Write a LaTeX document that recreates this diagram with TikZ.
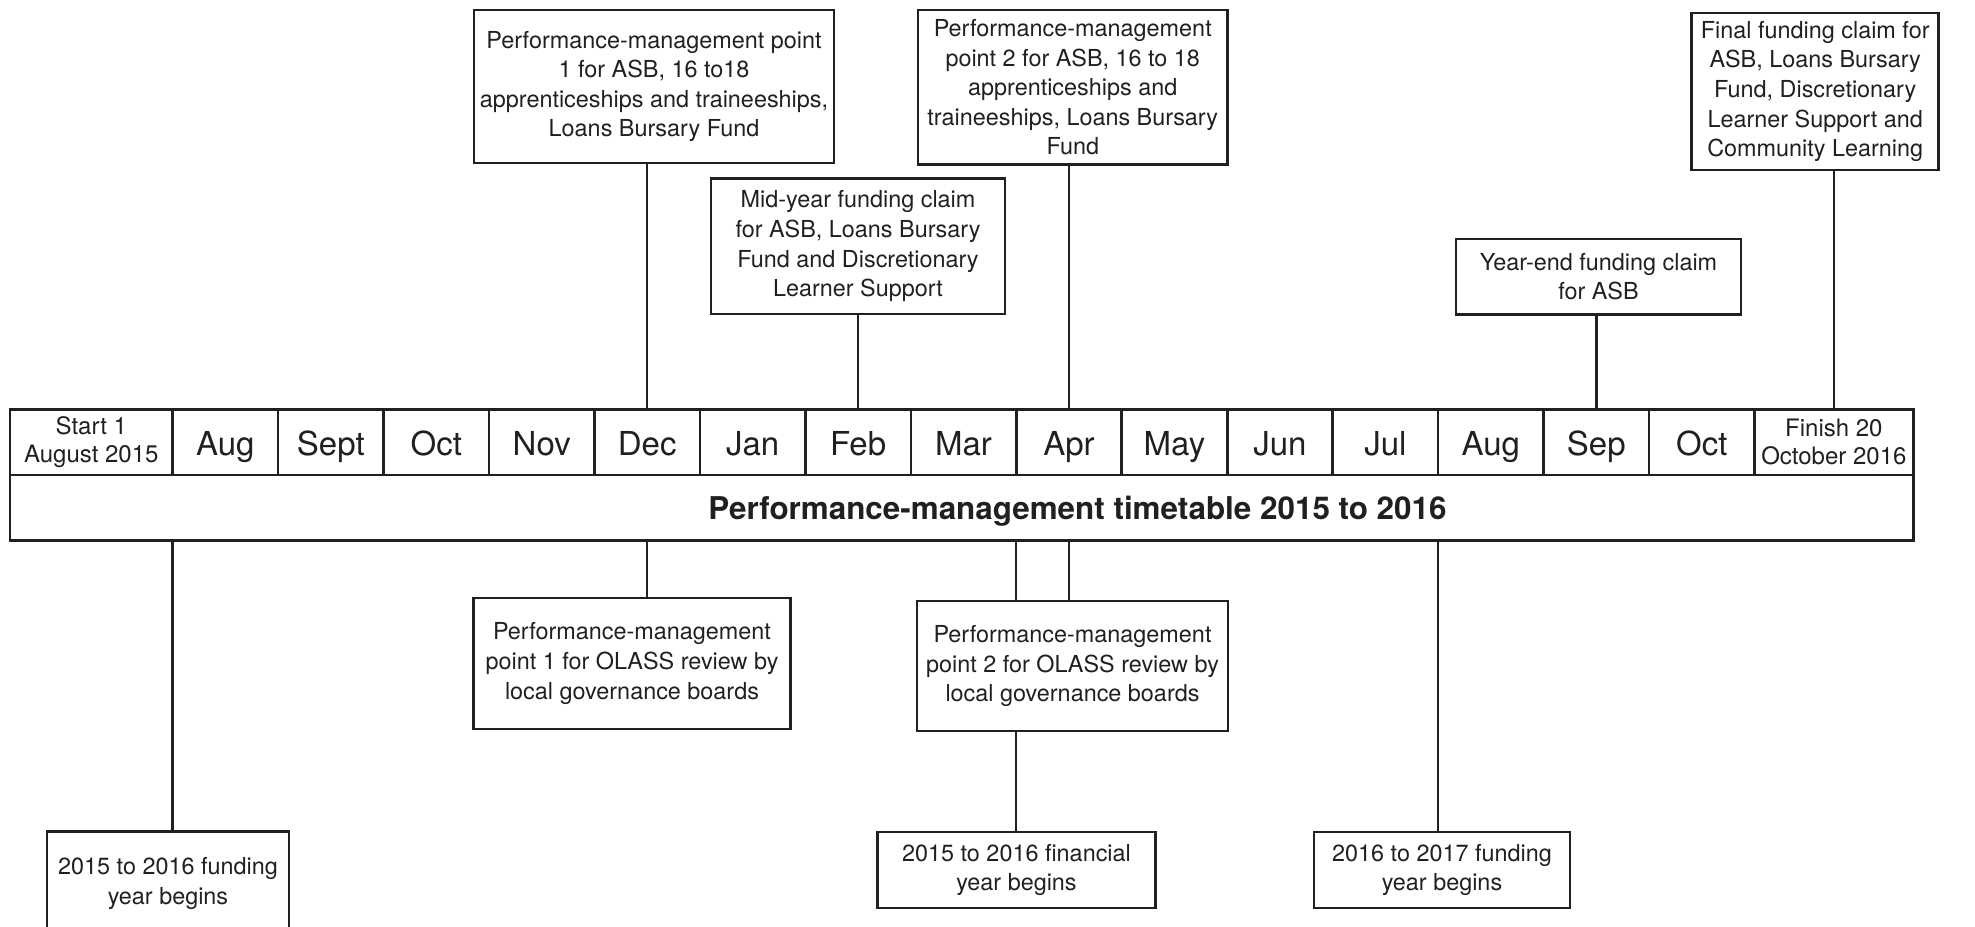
\documentclass[tikz,border=0pt]{standalone}
\usepackage{fontspec}
\setmainfont{TeX Gyre Heros}
\usetikzlibrary{positioning}
\definecolor{inkline}{HTML}{231F20}

\tikzset{
    cell/.style={draw=inkline, line width=1.3pt, minimum height=32.75pt, minimum width=52.73pt,
        inner sep=0pt, outer sep=0pt, text=inkline, text height=13pt, text depth=0pt,
        font=\fontsize{16.5}{18}\selectfont},
    endcell/.style={cell, align=center, text height=, text depth=, font=\fontsize{12}{13.9}\selectfont},
    box/.style={draw=inkline, line width=1.4pt, align=center, inner sep=2pt, outer sep=0pt,
        text=inkline, font=\fontsize{11.7}{14.8}\selectfont},
    link/.style={draw=inkline, line width=1.2pt},
}

\begin{document}
\begin{tikzpicture}[x=0.5pt, y=-0.5pt, node distance=0pt]
    \useasboundingbox (0,0) rectangle (1975,926);

    % Month row
    \node[endcell, minimum width=81.3pt, anchor=north west] (start) at (10,409.4) {Start 1\\August 2015};
    \node[cell, right=of start] (aug) {Aug};
    \node[cell, right=of aug] (sept) {Sept};
    \node[cell, right=of sept] (oct) {Oct};
    \node[cell, right=of oct] (nov) {Nov};
    \node[cell, right=of nov] (dec) {Dec};
    \node[cell, right=of dec] (jan) {Jan};
    \node[cell, right=of jan] (feb) {Feb};
    \node[cell, right=of feb] (mar) {Mar};
    \node[cell, right=of mar] (apr) {Apr};
    \node[cell, right=of apr] (may) {May};
    \node[cell, right=of may] (jun) {Jun};
    \node[cell, right=of jun] (jul) {Jul};
    \node[cell, right=of jul] (augb) {Aug};
    \node[cell, right=of augb] (sep) {Sep};
    \node[cell, right=of sep] (octb) {Oct};
    \node[endcell, minimum width=79.35pt, right=of octb] (finish) {Finish 20\\October 2016};

    % Title bar
    \node[cell, minimum width=951.65pt, anchor=north west] (bar) at (start.south west) {};
    \node[anchor=base, text=inkline, font=\fontsize{15.7}{18}\selectfont\bfseries] (title) at (1077.5,519)
        {Performance-management timetable 2015 to 2016};

    % Boxes above
    \node[box, minimum width=180pt, minimum height=76.5pt] (pmA) at (654,86.5)
        {Performance-management point\\1 for ASB, 16 to18\\apprenticeships and traineeships,\\Loans Bursary Fund};
    \node[box, minimum width=147pt, minimum height=67.75pt] (midA) at (858,246.25)
        {Mid-year funding claim\\for ASB, Loans Bursary\\Fund and Discretionary\\Learner Support};
    \node[box, minimum width=154.75pt, minimum height=77.25pt] (pmB) at (1072.75,87.25)
        {Performance-management\\point 2 for ASB, 16 to 18\\apprenticeships and\\traineeships, Loans Bursary\\Fund};
    \node[box, minimum width=142.5pt, minimum height=37.75pt] (yearA) at (1598.5,276.75)
        {Year-end funding claim\\for ASB};
    \node[box, minimum width=123.5pt, minimum height=78.5pt] (finalA) at (1815.2,91.5)
        {Final funding claim for\\ASB, Loans Bursary\\Fund, Discretionary\\Learner Support and\\Community Learning};

    % Boxes below
    \node[box, minimum width=121pt, minimum height=51.75pt] (fundA) at (168,883.25)
        {2015 to 2016 funding\\year begins};
    \node[box, minimum width=158.5pt, minimum height=65.5pt] (pmC) at (632,663.5)
        {Performance-management\\point 1 for OLASS review by\\local governance boards};
    \node[box, minimum width=155.5pt, minimum height=65pt] (pmD) at (1072.5,666)
        {Performance-management\\point 2 for OLASS review by\\local governance boards};
    \node[box, minimum width=139pt, minimum height=38pt] (finA) at (1016.5,870)
        {2015 to 2016 financial\\year begins};
    \node[box, minimum width=128pt, minimum height=38pt] (fundB) at (1442,870)
        {2016 to 2017 funding\\year begins};

    % Connectors above
    \draw[link] (dec.north) -- (dec.north |- pmA.south);
    \draw[link] (feb.north) -- (feb.north |- midA.south);
    \draw[link] (apr.north) -- (apr.north |- pmB.south);
    \draw[link] (sep.north) -- (sep.north |- yearA.south);
    \draw[link] (finish.north) -- (finish.north |- finalA.south);

    % Connectors below
    \draw[link] (start.east |- bar.south) -- (start.east |- fundA.north);
    \draw[link] (dec.south |- bar.south) -- (dec.south |- pmC.north);
    \draw[link] (mar.east |- bar.south) -- (mar.east |- pmD.north);
    \draw[link] (apr.south |- bar.south) -- (apr.south |- pmD.north);
    \draw[link] (mar.east |- pmD.south) -- (mar.east |- finA.north);
    \draw[link] (jul.east |- bar.south) -- (jul.east |- fundB.north);
\end{tikzpicture}
\end{document}
